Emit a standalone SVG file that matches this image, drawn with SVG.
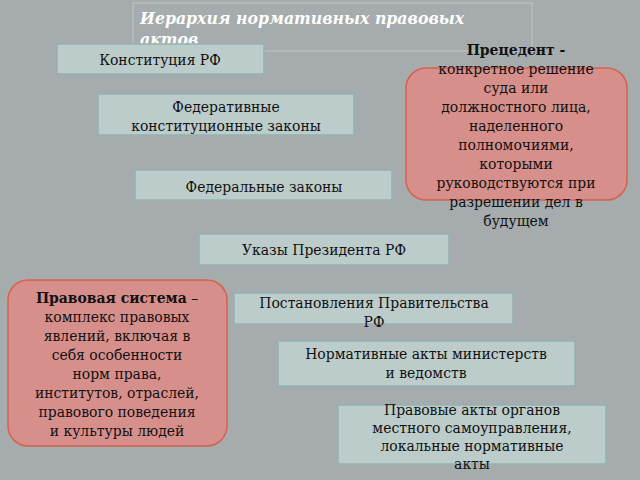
<svg xmlns="http://www.w3.org/2000/svg" width="640" height="480" viewBox="0 0 640 480">
<style>
.b{fill:#bcccca;stroke:#93b3ae;stroke-width:1.5}
.r{fill:#d78f8b;stroke:#d4624f;stroke-width:1.5}
text{font-family:"DejaVu Serif Condensed","DejaVu Serif",serif;font-stretch:condensed;font-size:15.5px;fill:#111;text-anchor:middle}
.t{font-weight:bold;font-style:italic;fill:#fff;font-size:17.5px;text-anchor:start}
</style>
<rect width="640" height="480" fill="#a6acad"/>
<g id="title"><rect x="133" y="3" width="399" height="48" fill="none" stroke="#bfc4c5"/>
<text class="t" x="140" y="24">Иерархия нормативных правовых</text><text class="t" x="140" y="45">актов</text></g>
<g id="n1"><rect class="b" x="57" y="44" width="207" height="30"/><text x="160" y="65">Конституция РФ</text></g>
<g id="n2"><rect class="b" x="98" y="94" width="256" height="41"/><text x="226" y="112">Федеративные</text><text x="226" y="131">конституционные законы</text></g>
<g id="n3"><rect class="b" x="135" y="170" width="257" height="30"/><text x="264" y="192">Федеральные законы</text></g>
<g id="n4"><rect class="b" x="199" y="234" width="250" height="31"/><text x="324" y="255">Указы Президента РФ</text></g>
<g id="n5"><rect class="b" x="234" y="293" width="279" height="31"/><text x="374" y="308">Постановления Правительства</text><text x="374" y="327">РФ</text></g>
<g id="n6"><rect class="b" x="278" y="341" width="297" height="45"/><text x="426" y="359">Нормативные акты министерств</text><text x="426" y="378">и ведомств</text></g>
<g id="n7"><rect class="b" x="338" y="405" width="268" height="59"/><text x="472" y="415">Правовые акты органов</text><text x="472" y="433">местного самоуправления,</text><text x="472" y="451">локальные нормативные</text><text x="472" y="469">акты</text></g>
<g id="prec"><rect class="r" x="406" y="68" width="221" height="132" rx="20"/>
<text x="516" y="55"><tspan font-weight="bold">Прецедент -</tspan></text>
<text x="516" y="74">конкретное решение</text><text x="516" y="93">суда или</text><text x="516" y="112">должностного лица,</text><text x="516" y="131">наделенного</text><text x="516" y="150">полномочиями,</text><text x="516" y="169">которыми</text><text x="516" y="188">руководствуются при</text><text x="516" y="207">разрешении дел в</text><text x="516" y="226">будущем</text></g>
<g id="ps"><rect class="r" x="8" y="280" width="219" height="166" rx="20"/>
<text x="117" y="303"><tspan font-weight="bold">Правовая система</tspan> –</text>
<text x="117" y="322">комплекс правовых</text><text x="117" y="341">явлений, включая в</text><text x="117" y="360">себя особенности</text><text x="117" y="379">норм права,</text><text x="117" y="398">институтов, отраслей,</text><text x="117" y="417">правового поведения</text><text x="117" y="436">и культуры людей</text></g>
<g id="connectors"/>
</svg>
